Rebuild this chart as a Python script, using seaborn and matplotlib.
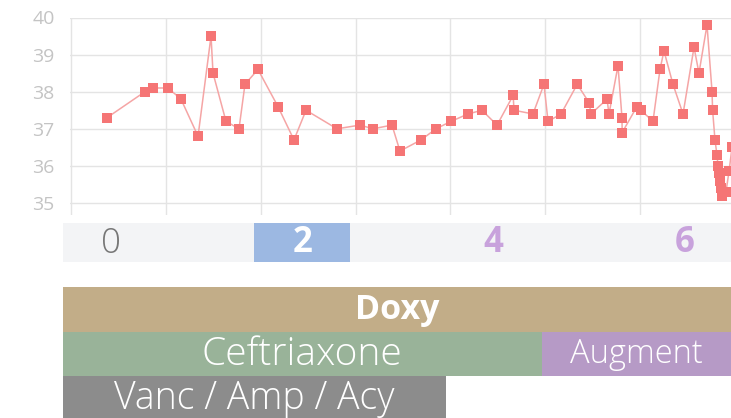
import numpy as np
import pandas as pd
from matplotlib import pyplot as plt
import seaborn as sns

# temperature readings (x in days since admission)
days = [0.378, 0.778, 0.863, 1.021, 1.158, 1.338, 1.475, 1.496, 1.633, 1.770,
        1.833, 1.970, 2.181, 2.350, 2.477, 2.804, 3.046, 3.184, 3.384, 3.468,
        3.690, 3.848, 4.006, 4.186, 4.333, 4.492, 4.662, 4.671, 4.871, 4.987,
        5.030, 5.167, 5.338, 5.464, 5.483, 5.652, 5.673, 5.768, 5.810, 5.812,
        5.968, 6.010, 6.137, 6.211, 6.253, 6.348, 6.454, 6.570, 6.622, 6.707,
        6.760, 6.766, 6.791, 6.812, 6.823, 6.833, 6.844, 6.854, 6.865, 6.907,
        6.939, 6.971]
temps = [37.3, 38.0, 38.1, 38.1, 37.8, 36.8, 39.5, 38.5, 37.2, 37.0,
         38.2, 38.6, 37.6, 36.7, 37.5, 37.0, 37.1, 37.0, 37.1, 36.4,
         36.7, 37.0, 37.2, 37.4, 37.5, 37.1, 37.9, 37.5, 37.4, 38.2,
         37.2, 37.4, 38.2, 37.7, 37.4, 37.8, 37.4, 38.7, 37.3, 36.9,
         37.6, 37.5, 37.2, 38.6, 39.1, 38.2, 37.4, 39.2, 38.5, 39.8,
         38.0, 37.5, 36.7, 36.3, 36.0, 35.8, 35.6, 35.4, 35.2, 35.3,
         35.85, 36.5]
temp_ticks = [35, 36, 37, 38, 39, 40]

# day strip
day_labels = ["0", "", "2", "", "4", "", "6"]
highlight_day = 2

# medications (start day, end day)
med_names = ["Doxy", "Ceftriaxone", "Augment", "Vanc / Amp / Acy"]
med_start = [0, 0, 5, 0]
med_end = [8, 5, 8, 4]
med_row = [0, 1, 1, 2]
med_colors = ["#c2ad88", "#99b399", "#b69ac6", "#8c8c8c"]
med_bold = [True, False, False, False]
med_fsize = [24.5, 28, 23.5, 27]

sns.set_theme(style="white")
plt.rcParams['font.family'] = ['Open Sans', 'DejaVu Sans']

W, H = 731, 418
fig = plt.figure(figsize=(W / 100, H / 100), dpi=100)

# temperature panel
ax = fig.add_axes([70 / W, (H - 215) / H, 661 / W, (215 - 17.5) / H])
df = pd.DataFrame({"day": days, "temp": temps})
sns.lineplot(data=df, x="day", y="temp", ax=ax, sort=False, estimator=None,
             color="#f5a5a5", lw=1.1, marker="s", markersize=7.5,
             markerfacecolor="#f57575", markeredgewidth=0, clip_on=True)
ax.set_xlim(-0.0127, 6.96)
ax.set_ylim(40 - (215 - 17.5) / 37.1, 40)
ax.set_xticks(range(0, 7))
ax.set_xticklabels([])
ax.set_yticks(temp_ticks)
ax.set_yticklabels([str(t) for t in temp_ticks], color="#c4c4c4", fontsize=14)
ax.tick_params(axis="both", length=0)
ax.tick_params(axis="y", pad=11)
ax.grid(True, color="#e4e4e4", lw=1)
for s in ax.spines.values():
    s.set_visible(False)
ax.set_xlabel("")
ax.set_ylabel("")

# day strip
xmax = 668 / 95.7
axs = fig.add_axes([63 / W, (H - 262) / H, 668 / W, 39 / H])
axs.set_xlim(0, xmax)
axs.set_ylim(0, 1)
axs.set_facecolor("#f3f4f6")
axs.axvspan(highlight_day, highlight_day + 1, color="#9cb8e2", lw=0)
for d, lab in enumerate(day_labels):
    if not lab:
        continue
    if d == highlight_day:
        col, wt = "white", "bold"
    elif d == 0:
        col, wt = "#777777", "light"
    else:
        col, wt = "#c8a2dc", "bold"
    axs.text(d + 0.5, 0.48, lab, ha="center", va="center", fontsize=25,
             color=col, fontweight=wt)
axs.set_xticks([])
axs.set_yticks([])
for s in axs.spines.values():
    s.set_visible(False)

# medication bars
axb = fig.add_axes([63 / W, 0, 668 / W, (H - 287) / H])
axb.set_xlim(0, xmax)
axb.set_ylim((H - 287) / 44.5, 0)
for name, st, en, r, c, b, fs in zip(med_names, med_start, med_end, med_row,
                                     med_colors, med_bold, med_fsize):
    axb.barh(r + 0.5, en - st, left=st, height=1, color=c, lw=0)
    cx = (st + min(en, xmax)) / 2
    axb.text(cx, r + 0.52, name, ha="center", va="center", color="white",
             fontsize=fs, fontweight="bold" if b else "light")
axb.set_xticks([])
axb.set_yticks([])
axb.set_facecolor("white")
for s in axb.spines.values():
    s.set_visible(False)

fig.savefig("out.png", dpi=100)
